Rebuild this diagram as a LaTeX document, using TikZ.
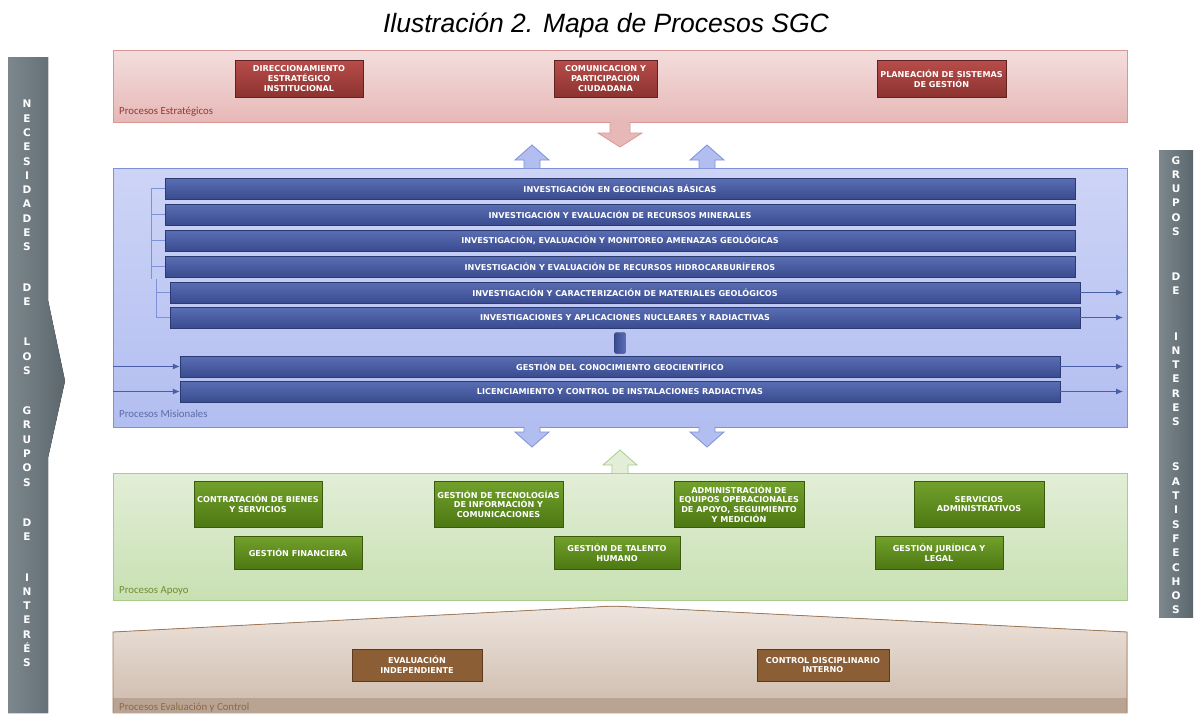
\documentclass[tikz,border=0pt]{standalone}
\usepackage{fontspec}
\setmainfont{DejaVu Sans}
\newfontfamily\titlefont{Liberation Sans}
\newfontfamily\labelfont{Carlito}
\newcommand{\boxtext}{\fontsize{8.1}{9.6}\selectfont\bfseries}
\newcommand{\sidetext}{\fontsize{10.5}{14.3}\selectfont\bfseries}
\usetikzlibrary{arrows.meta}

\definecolor{pinktop}{HTML}{F3DEDD}
\definecolor{pinkbot}{HTML}{E6B8B7}
\definecolor{pinkline}{HTML}{D99694}
\definecolor{redtop}{HTML}{B84D4A}
\definecolor{redbot}{HTML}{8C3330}
\definecolor{redline}{HTML}{5E2220}
\definecolor{redlbl}{HTML}{953735}
\definecolor{bluetop}{HTML}{CDD4F6}
\definecolor{bluebot}{HTML}{B2BEF0}
\definecolor{blueline}{HTML}{7F91D8}
\definecolor{bartop}{HTML}{5A6EB5}
\definecolor{barbot}{HTML}{3A4C8F}
\definecolor{barline}{HTML}{2B3A70}
\definecolor{bluelbl}{HTML}{5C6BA8}
\definecolor{flowc}{HTML}{4A5EA8}
\definecolor{greentop}{HTML}{E2EED7}
\definecolor{greenbot}{HTML}{C8E0B2}
\definecolor{greenline}{HTML}{A9CC8B}
\definecolor{boxgtop}{HTML}{72A12C}
\definecolor{boxgbot}{HTML}{4D7813}
\definecolor{boxgline}{HTML}{3A5A0E}
\definecolor{greenlbl}{HTML}{6E8E30}
\definecolor{browntop}{HTML}{EEE4DD}
\definecolor{brownbot}{HTML}{CDBAAC}
\definecolor{brownband}{HTML}{B9A392}
\definecolor{brownline}{HTML}{A07A58}
\definecolor{boxbrown}{HTML}{8B5E36}
\definecolor{boxbline}{HTML}{5A3B20}
\definecolor{brownlbl}{HTML}{8A6A4A}
\definecolor{graylt}{HTML}{7C878E}
\definecolor{graydk}{HTML}{5B666D}

\begin{document}
\begin{tikzpicture}[x=1pt, y=-1pt,
panel/.style = {rectangle, anchor=north west, inner sep=0pt, minimum width=1014pt},
lbl/.style = {anchor=west, inner sep=0pt, font=\labelfont\fontsize{10.8}{12}\selectfont},
estbox/.style = {rectangle, draw=redline, top color=redtop, bottom color=redbot, text=white, font=\boxtext, align=center, inner sep=1pt, minimum height=37pt},
misbar/.style = {rectangle, draw=barline, top color=bartop, bottom color=barbot, text=white, font=\boxtext, inner sep=1pt, minimum height=21pt},
apobox/.style = {rectangle, draw=boxgline, top color=boxgtop, bottom color=boxgbot, text=white, font=\boxtext, align=center, inner sep=1pt},
evabox/.style = {rectangle, draw=boxbline, fill=boxbrown, text=white, font=\boxtext, align=center, inner sep=1pt, minimum height=32pt},
sidebar/.style = {left color=graylt, right color=graydk},
sidelbl/.style = {anchor=north, inner sep=0pt, text=white, font=\sidetext, align=center},
bluearrow/.style = {fill=bluebot, draw=blueline, thick},
flow/.style = {flowc, thick, -{Latex[length=7pt,width=6pt]}},
bracket/.style = {blueline, thick}
]
\useasboundingbox (0,0) rectangle (1194,713);

% Title
\node[font=\titlefont\itshape\fontsize{26.5}{30}\selectfont] (title) at (606,25) {Ilustración 2. Mapa de Procesos SGC};

% Side bars
\fill[sidebar] (8,57) -- (48,57) -- (48,300) -- (65,381) -- (48,458) -- (48,713) -- (8,713) -- cycle;
\fill[sidebar] (1159,150) rectangle (1193,617);
\node[sidelbl] (needs) at (27,100) {N\\E\\C\\E\\S\\I\\D\\A\\D\\E\\S\\[26pt]D\\E\\[26pt]L\\O\\S\\[26pt]G\\R\\U\\P\\O\\S\\[26pt]D\\E\\[26pt]I\\N\\T\\E\\R\\É\\S};
\node[sidelbl] (sats) at (1176,156) {G\\R\\U\\P\\O\\S\\[30.8pt]D\\E\\[30.8pt]I\\N\\T\\E\\R\\E\\S\\[30.8pt]S\\A\\T\\I\\S\\F\\E\\C\\H\\O\\S};

% Draw panels
\node[panel, minimum height=72pt, draw=pinkline, top color=pinktop, bottom color=pinkbot] (estrat) at (113,50) {};
\node[panel, minimum height=259pt, draw=blueline, top color=bluetop, bottom color=bluebot] (misio) at (113,168) {};
\node[panel, minimum height=127pt, draw=greenline, top color=greentop, bottom color=greenbot] (apoyo) at (113,473) {};
\fill[top color=browntop, bottom color=brownbot] (113,713) -- (113,632) -- (596,607) .. controls (608,606) and (618,606) .. (632,607) -- (1127,632) -- (1127,713) -- cycle;
\fill[brownband] (113,698) rectangle (1127,713);
\draw[brownline, thick] (113,713) -- (113,632) -- (596,607) .. controls (608,606) and (618,606) .. (632,607) -- (1127,632) -- (1127,713);

% Panel labels
\node[lbl, text=redlbl] (lblest) at (119,112) {Procesos Estratégicos};
\node[lbl, text=bluelbl] (lblmis) at (119,414) {Procesos Misionales};
\node[lbl, text=greenlbl] (lblapo) at (119,591) {Procesos Apoyo};
\node[lbl, text=brownlbl] (lbleva) at (119,708) {Procesos Evaluación y Control};

% Block arrows between panels
\filldraw[fill=pinkbot, draw=pinkline, thick] (610,122) -- (610,133) -- (598,133) -- (620,147) -- (642,133) -- (630,133) -- (630,122);
\foreach \x in {532,707}{
  \filldraw[bluearrow] (\x-8,168) -- (\x-8,160) -- (\x-17,160) -- (\x,145) -- (\x+17,160) -- (\x+8,160) -- (\x+8,168);
  \filldraw[bluearrow] (\x-8,427) -- (\x-8,432) -- (\x-17,432) -- (\x,447) -- (\x+17,432) -- (\x+8,432) -- (\x+8,427);
}
\filldraw[fill=greentop, draw=greenline, thick] (612,473) -- (612,465) -- (603,465) -- (620,450) -- (637,465) -- (628,465) -- (628,473);

% Strategic processes
\node[estbox, minimum width=128pt] (dir) at (299,78.5) {DIRECCIONAMIENTO\\ESTRATÉGICO\\INSTITUCIONAL};
\node[estbox, minimum width=103pt] (com) at (605.5,78.5) {COMUNICACION Y\\PARTICIPACIÓN\\CIUDADANA};
\node[estbox, minimum width=129pt] (plan) at (941.5,78.5) {PLANEACIÓN DE SISTEMAS\\DE GESTIÓN};

% Mission processes
\node[misbar, minimum width=910pt] (bar1) at (620,188.5) {INVESTIGACIÓN EN GEOCIENCIAS BÁSICAS};
\node[misbar, minimum width=910pt] (bar2) at (620,214.5) {INVESTIGACIÓN Y EVALUACIÓN DE RECURSOS MINERALES};
\node[misbar, minimum width=910pt] (bar3) at (620,240.5) {INVESTIGACIÓN, EVALUACIÓN Y MONITOREO AMENAZAS GEOLÓGICAS};
\node[misbar, minimum width=910pt] (bar4) at (620,266.5) {INVESTIGACIÓN Y EVALUACIÓN DE RECURSOS HIDROCARBURÍFEROS};
\node[misbar, minimum width=910pt] (bar5) at (625,292.5) {INVESTIGACIÓN Y CARACTERIZACIÓN DE MATERIALES GEOLÓGICOS};
\node[misbar, minimum width=910pt] (bar6) at (625,317.5) {INVESTIGACIONES Y APLICACIONES NUCLEARES Y RADIACTIVAS};
\node[misbar, minimum width=880pt] (bar7) at (620,366.5) {GESTIÓN DEL CONOCIMIENTO GEOCIENTÍFICO};
\node[misbar, minimum width=880pt] (bar8) at (620,391.5) {LICENCIAMIENTO Y CONTROL DE INSTALACIONES RADIACTIVAS};
\node[rectangle, rounded corners=2pt, draw=barline, left color=barbot, right color=bartop, minimum width=11pt, minimum height=21pt, inner sep=0pt] (link) at (620,343) {};

% Brackets and flows
\coordinate (brA) at (151,0);
\coordinate (brB) at (156,0);
\coordinate (lft) at (113,0);
\coordinate (rgt) at (1123,0);
\draw[bracket] (bar1.west -| brA) -- ([yshift=-12pt]bar4.west -| brA);
\draw[bracket] ([yshift=-12pt]bar4.west -| brB) -- (bar6.west -| brB);
\foreach \b in {bar1,bar2,bar3,bar4} \draw[bracket] (\b.west -| brA) -- (\b.west);
\foreach \b in {bar5,bar6} \draw[bracket] (\b.west -| brB) -- (\b.west);
\foreach \b in {bar5,bar6,bar7,bar8} \draw[flow] (\b.east) -- (\b.east -| rgt);
\foreach \b in {bar7,bar8} \draw[flow] (\b.west -| lft) -- (\b.west);

% Support processes
\node[apobox, minimum width=128pt, minimum height=46pt] (contr) at (258,504) {CONTRATACIÓN DE BIENES\\Y SERVICIOS};
\node[apobox, minimum width=129pt, minimum height=46pt] (tec) at (498.5,504) {GESTIÓN DE TECNOLOGÍAS\\DE INFORMACIÓN Y\\COMUNICACIONES};
\node[apobox, minimum width=130pt, minimum height=46pt] (adm) at (739,504) {ADMINISTRACIÓN DE\\EQUIPOS OPERACIONALES\\DE APOYO, SEGUIMIENTO\\Y MEDICIÓN};
\node[apobox, minimum width=130pt, minimum height=46pt] (serv) at (979,504) {SERVICIOS\\ADMINISTRATIVOS};
\node[apobox, minimum width=128pt, minimum height=33pt] (fin) at (298,552.5) {GESTIÓN FINANCIERA};
\node[apobox, minimum width=126pt, minimum height=33pt] (tal) at (617,552.5) {GESTIÓN DE TALENTO\\HUMANO};
\node[apobox, minimum width=128pt, minimum height=33pt] (jur) at (939,552.5) {GESTIÓN JURÍDICA Y\\LEGAL};

% Evaluation and control
\node[evabox, minimum width=130pt] (eva) at (417,665) {EVALUACIÓN\\INDEPENDIENTE};
\node[evabox, minimum width=132pt] (ctrl) at (823,665) {CONTROL DISCIPLINARIO\\INTERNO};

\end{tikzpicture}
\end{document}
